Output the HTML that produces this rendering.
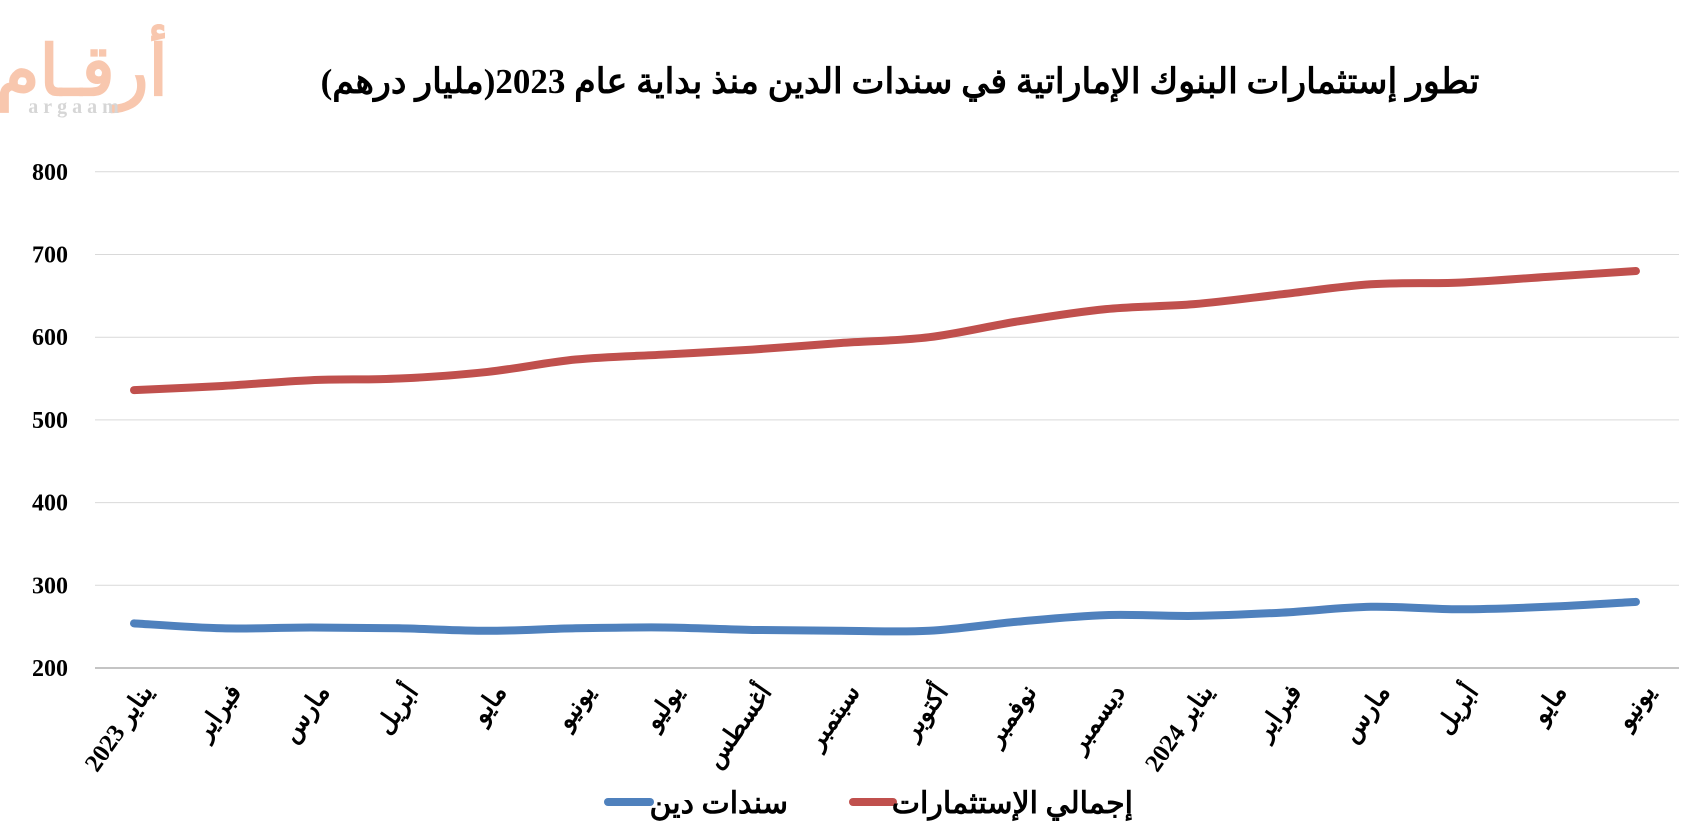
<!DOCTYPE html>
<html><head><meta charset="utf-8"><style>
html,body{margin:0;padding:0;background:#fff;width:1695px;height:834px;overflow:hidden}
text{font-family:"Liberation Serif","Noto Sans CJK SC",serif;font-weight:bold}
</style></head><body>
<svg id="s" width="1695" height="834" viewBox="0 0 1695 834" xmlns="http://www.w3.org/2000/svg">
<g opacity="0.6" fill="#f4a27a">
<text x="82" y="95" font-size="70" text-anchor="middle" font-family="DejaVu Sans,sans-serif">أرقـام</text>
<text x="76" y="113" font-size="20" text-anchor="middle" letter-spacing="5" font-weight="normal" font-family="Liberation Sans,sans-serif" fill="#bbb">argaam</text>
</g>
<text x="900" y="93" font-size="35" text-anchor="middle" direction="rtl" font-family="Liberation Sans,'DejaVu Sans',sans-serif">تطور إستثمارات البنوك الإماراتية في سندات الدين  منذ بداية عام 2023(مليار درهم)</text>
<g id="grid" stroke="#d9d9d9" stroke-width="1"></g>
<g id="yl" font-size="24" text-anchor="end"></g>
<g id="xl" font-size="25" text-anchor="end" font-family="Liberation Sans,'DejaVu Sans',sans-serif"></g>
<path id="red" fill="none" stroke="#c0504d" stroke-width="8" stroke-linecap="round"/>
<path id="blue" fill="none" stroke="#4f81bd" stroke-width="8" stroke-linecap="round"/>
<line x1="608" y1="802" x2="650" y2="802" stroke="#4f81bd" stroke-width="8" stroke-linecap="round"/>
<text x="788" y="813" font-size="30" text-anchor="end" font-family="Liberation Sans,'DejaVu Sans',sans-serif">سندات دين</text>
<line x1="853" y1="802" x2="893" y2="802" stroke="#c0504d" stroke-width="8" stroke-linecap="round"/>
<text x="1133" y="813" font-size="30" text-anchor="end" font-family="Liberation Sans,'DejaVu Sans',sans-serif">إجمالي الإستثمارات</text>
</svg>
<script>
var NS="http://www.w3.org/2000/svg";
function Y(v){return 668-(v-200)*0.827;}
function X(i){return 134+i*88.35;}
var g=document.getElementById('grid'),yl=document.getElementById('yl'),xl=document.getElementById('xl');
for(var v=200;v<=800;v+=100){
 var l=document.createElementNS(NS,'line');l.setAttribute('x1',95);l.setAttribute('x2',1679);
 l.setAttribute('y1',Y(v));l.setAttribute('y2',Y(v));if(v==200)l.setAttribute('stroke','#888');g.appendChild(l);
 var t=document.createElementNS(NS,'text');t.setAttribute('x',68);t.setAttribute('y',Y(v)+8);t.textContent=v;yl.appendChild(t);}
var m=["يناير 2023","فبراير","مارس","أبريل","مايو","يونيو","يوليو","أغسطس","سبتمبر","أكتوبر","نوفمبر","ديسمبر","يناير 2024","فبراير","مارس","أبريل","مايو","يونيو"];
m.forEach(function(s,i){var t=document.createElementNS(NS,'text');var x=X(i)+20,y=692;
 t.setAttribute('transform','translate('+x+','+y+') rotate(-55)');t.textContent=s;xl.appendChild(t);});
function path(d){var p=d.map(function(v,i){return [X(i),Y(v)]});var s="M"+p[0];
 for(var i=0;i<p.length-1;i++){var a=p[Math.max(i-1,0)],b=p[i],c=p[i+1],e=p[Math.min(i+2,p.length-1)];
 s+=" C"+(b[0]+(c[0]-a[0])/6)+","+(b[1]+(c[1]-a[1])/6)+" "+(c[0]-(e[0]-b[0])/6)+","+(c[1]-(e[1]-b[1])/6)+" "+c[0]+","+c[1];}return s;}
document.getElementById('red').setAttribute('d',path([536,541,548,550,558,573,579,585,593,600,619,634,640,652,664,666,673,680]));
document.getElementById('blue').setAttribute('d',path([254,248,249,248,245,248,249,246,245,245,256,264,263,267,274,271,274,280]));
</script>
</body></html>
